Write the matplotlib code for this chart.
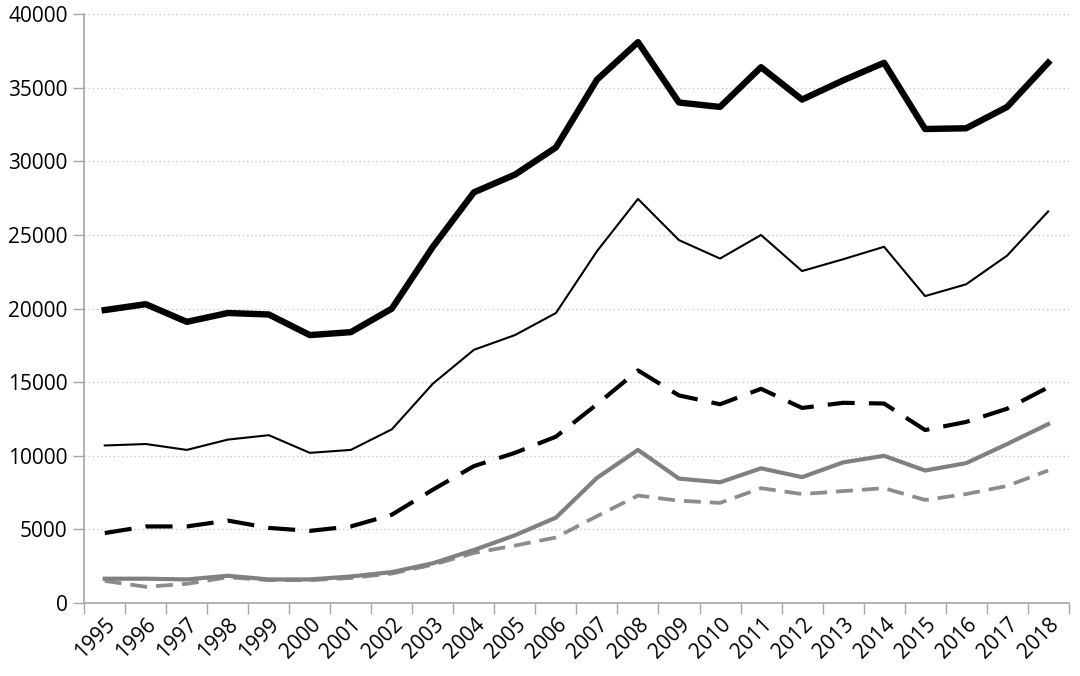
import numpy as np
import matplotlib.pyplot as plt
from matplotlib.ticker import FixedLocator, NullFormatter

plt.rcParams['font.family'] = ['Open Sans', 'DejaVu Sans']

# ==========================================
# Data
# ==========================================
years = [str(y) for y in range(1995, 2019)]

thick_black = [19900, 20300, 19100, 19700, 19600, 18200, 18400, 20000, 24200, 27900,
               29100, 30950, 35550, 38100, 34000, 33700, 36400, 34200, 35500, 36700,
               32200, 32250, 33700, 36700]
thin_black = [10700, 10800, 10400, 11100, 11400, 10200, 10400, 11800, 14900, 17200,
              18200, 19700, 23900, 27450, 24650, 23400, 25000, 22550, 23350, 24200,
              20850, 21650, 23600, 26600]
dashed_black = [4750, 5200, 5200, 5600, 5100, 4900, 5200, 6000, 7700, 9300,
                10200, 11300, 13500, 15800, 14100, 13500, 14550, 13250, 13600, 13550,
                11750, 12300, 13200, 14650]
gray_solid = [1650, 1650, 1600, 1850, 1600, 1600, 1800, 2100, 2700, 3600,
              4600, 5800, 8500, 10400, 8450, 8200, 9150, 8550, 9550, 10000,
              9000, 9500, 10800, 12150]
gray_dashed = [1500, 1100, 1300, 1750, 1550, 1550, 1700, 2000, 2600, 3400,
               3900, 4450, 5900, 7300, 6950, 6800, 7800, 7400, 7600, 7800,
               7000, 7400, 7950, 9000]

# ==========================================
# Figure
# ==========================================
fig = plt.figure(figsize=(10.8, 6.76), dpi=100)
ax = fig.add_axes([0.078, 0.108, 0.9115, 0.871])

x = np.arange(len(years))
ax.plot(x, thick_black, color='black', lw=4.6, zorder=5)
ax.plot(x, thin_black, color='black', lw=1.5, zorder=5)
ax.plot(x, dashed_black, color='black', lw=3.0, dashes=(6.5, 3.4), zorder=4)
ax.plot(x, gray_solid, color='#808080', lw=3.0, zorder=3)
ax.plot(x, gray_dashed, color='#8c8c8c', lw=2.7, dashes=(4.5, 2.4), zorder=2)

# axes
ax.set_xlim(-0.5, len(years) - 0.5)
ax.set_ylim(0, 40000)
ax.set_yticks(np.arange(0, 40001, 5000))
ax.yaxis.grid(True, linestyle=(0, (1, 2)), color='#c8c8c8', lw=1.0)
ax.set_axisbelow(True)

ax.set_xticks(x)
ax.set_xticklabels(years, rotation=45, ha='right', va='top', rotation_mode='anchor')
ax.tick_params(axis='x', which='major', length=0, pad=8, labelsize=15)
ax.xaxis.set_minor_locator(FixedLocator(np.arange(-0.5, len(years), 1.0)))
ax.xaxis.set_minor_formatter(NullFormatter())
ax.tick_params(axis='x', which='minor', length=8, color='#a6a6a6', width=1)
ax.tick_params(axis='y', length=8, color='#a6a6a6', width=1, labelsize=15, pad=4)

for s in ['top', 'right']:
    ax.spines[s].set_visible(False)
for s in ['left', 'bottom']:
    ax.spines[s].set_color('#a6a6a6')
    ax.spines[s].set_linewidth(1.2)

plt.savefig('out.png', dpi=100)
